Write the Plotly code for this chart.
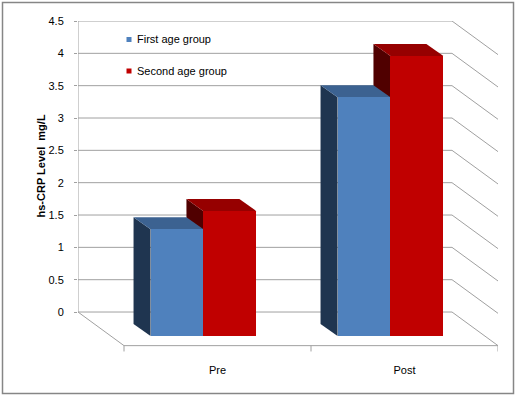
import plotly.graph_objects as go

# ---------------- data ----------------
categories = ["Pre", "Post"]
series_names = ["First age group", "Second age group"]
first_age = [1.28, 3.32]
second_age = [1.56, 3.96]
y_tick_values = [0, 0.5, 1, 1.5, 2, 2.5, 3, 3.5, 4, 4.5]
y_tick_labels = ["0", "0.5", "1", "1.5", "2", "2.5", "3", "3.5", "4", "4.5"]

# ---------------- styles / geometry ----------------
W, H = 517, 396
PL, PT, PR, PB = 78, 21, 19, 40
PW, PH = W - PL - PR, H - PT - PB
X_RANGE = [-0.746, 1.5]
Y_RANGE = [-0.680, 4.5]

FLOOR_DX = 0.246     # depth of floor (x units)
FLOOR_DY = 0.52      # depth of floor (value units)
BAR_BASE = -0.371    # front face bottom
BAR_SHIFT = -0.075   # bar group shift from category centre
BAR_W = 0.283
BAR_DX = -0.091      # bar depth offsets
BAR_DY = 0.186

BLUE = dict(front="#4F81BD", side="#1F3550", top="#3C6291")
RED = dict(front="#C00000", side="#500000", top="#960000")
GRID = "#A0A0A0"
FONT = "Liberation Sans"


def px(xp):
    return (xp - PL) / PW


def py(yp):
    return 1 - (yp - PT) / PH


shapes = []


def line_path(pts, color=GRID, width=1):
    d = "M" + " L".join(f"{x},{y}" for x, y in pts)
    shapes.append(dict(type="path", path=d, xref="x", yref="y", layer="below",
                       line=dict(color=color, width=width)))


def poly(pts, color):
    d = "M" + " L".join(f"{x},{y}" for x, y in pts) + " Z"
    shapes.append(dict(type="path", path=d, xref="x", yref="y", layer="below",
                       fillcolor=color, line=dict(width=0)))


wall_left = X_RANGE[0]
wall_right = X_RANGE[1] - FLOOR_DX
# back wall gridlines with side diagonals
for v in y_tick_values:
    line_path([(wall_left, v), (wall_right, v), (X_RANGE[1], v - FLOOR_DY)])
# left wall edge
line_path([(wall_left, 0), (wall_left, max(y_tick_values))])
# floor
n = len(categories)
line_path([(wall_left, 0), (-0.5, -FLOOR_DY), (n - 0.5, -FLOOR_DY)])
for i in range(n + 1):
    line_path([(i - 0.5, -FLOOR_DY), (i - 0.5, -FLOOR_DY - 0.09)])

# 3D side and top faces, back series first
series = [(first_age, BLUE, -BAR_W), (second_age, RED, 0.0)]
for ci in range(n):
    for vals, col, off in reversed(series):
        xl = ci + BAR_SHIFT + off
        xr = xl + BAR_W
        v = vals[ci]
        poly([(xl, BAR_BASE), (xl, v), (xl + BAR_DX, v + BAR_DY),
              (xl + BAR_DX, BAR_BASE + BAR_DY)], col["side"])
        poly([(xl, v), (xr, v), (xr + BAR_DX, v + BAR_DY),
              (xl + BAR_DX, v + BAR_DY)], col["top"])

fig = go.Figure()
xs = list(range(n))
for (vals, col, off), name in zip(series, series_names):
    fig.add_trace(go.Bar(
        x=xs, y=[v - BAR_BASE for v in vals], base=BAR_BASE, name=name,
        offset=BAR_SHIFT + off, width=BAR_W,
        marker=dict(color=col["front"], line=dict(width=0)),
        showlegend=False, hoverinfo="skip"))

# legend (manual)
annotations = []
for i, (name, col) in enumerate(zip(series_names, [BLUE, RED])):
    yc = 39.5 + 31.5 * i
    shapes.append(dict(type="rect", xref="paper", yref="paper",
                       x0=px(126.5), x1=px(131.5), y0=py(yc - 2.5), y1=py(yc + 2.5),
                       fillcolor=col["front"], line=dict(width=0)))
    annotations.append(dict(text=name, xref="paper", yref="paper", x=px(135),
                            y=py(yc), xanchor="left", yanchor="middle",
                            showarrow=False, font=dict(size=11, color="#000")))

annotations.append(dict(text="<b>hs-CRP Level  mg/L</b>", xref="paper", yref="paper",
                        x=px(32), y=py(166.5), textangle=-90, showarrow=False,
                        font=dict(size=11, color="#000")))

# chart border
shapes.append(dict(type="rect", xref="paper", yref="paper",
                   x0=px(2.5), x1=px(513.5), y0=py(2.5), y1=py(393.5),
                   line=dict(color="#868686", width=1.5), layer="above"))

fig.update_layout(
    width=W, height=H, margin=dict(l=PL, r=PR, t=PT, b=PB),
    paper_bgcolor="white", plot_bgcolor="white",
    font=dict(family=FONT, size=11, color="#000"),
    barmode="overlay", bargap=0,
    shapes=shapes, annotations=annotations, showlegend=False,
    xaxis=dict(range=X_RANGE, tickvals=xs, ticktext=categories, showgrid=False,
               zeroline=False, showline=False, ticks="", ticklabelstandoff=6,
               fixedrange=True),
    yaxis=dict(range=Y_RANGE, tickvals=y_tick_values, ticktext=y_tick_labels,
               showgrid=False, zeroline=False, showline=False, ticks="outside",
               ticklen=3, tickcolor=GRID, ticklabelstandoff=8, fixedrange=True),
)

fig.write_html("out.html", config=dict(displayModeBar=False),
               post_script="document.body.style.margin='0px';")
